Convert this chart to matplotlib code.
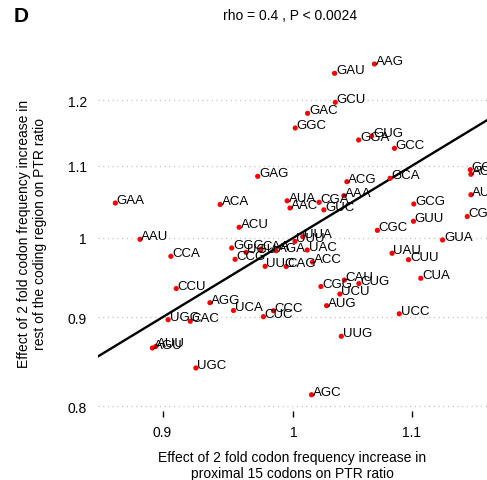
import numpy as np
import matplotlib
matplotlib.use('Agg')
import matplotlib.pyplot as plt
from matplotlib.ticker import FixedLocator, NullLocator, FixedFormatter

plt.rcParams['font.family'] = ['Liberation Sans', 'DejaVu Sans']

# codon effects (x: proximal 15 codons, y: rest of coding region)
codons = ['AAG', 'GAU', 'GCU', 'GAC', 'GGC', 'GGA', 'GUG', 'GCC', 'ACG', 'GCA',
          'GCU', 'ACC', 'AUC', 'CGU', 'GAG', 'GAA', 'ACA', 'AUA', 'AAC', 'ACU',
          'AAU', 'CCA', 'GGG', 'CCG', 'CCU', 'CGA', 'GUC', 'UGU', 'CAA', 'AGA',
          'UUC', 'CAG', 'UUU', 'UUA', 'UAC', 'ACC', 'AAA', 'GCG', 'GUU', 'CGC',
          'GUA', 'UAU', 'CUU', 'CUA', 'CGG', 'CAU', 'CUG', 'UCU', 'AUG', 'UCC',
          'UUG', 'AGC', 'AGG', 'UCA', 'CCC', 'CUC', 'UGG', 'CAC', 'AGU', 'AUU',
          'UGC']
x_proximal = [1.0673, 1.0336, 1.0342, 1.0114, 1.0014, 1.0538, 1.0649, 1.0846, 1.0439, 1.0808,
              1.1528, 1.1534, 1.1534, 1.1500, 0.9716, 0.8665, 0.9427, 0.9949, 0.9972, 0.9572,
              0.8839, 0.9061, 0.9515, 0.9541, 0.9100, 1.0208, 1.0247, 0.9626, 0.9743, 0.9861,
              0.9774, 0.9941, 1.0012, 1.0075, 1.0111, 1.0154, 1.0414, 1.1016, 1.1013, 1.0698,
              1.1274, 1.0825, 1.0969, 1.1078, 1.0223, 1.0418, 1.0540, 1.0380, 1.0270, 1.0888,
              1.0392, 1.0146, 0.9350, 0.9529, 0.9840, 0.9761, 0.9041, 0.9203, 0.8927, 0.8952,
              0.9245]
y_rest = [1.2587, 1.2433, 1.1964, 1.1791, 1.1564, 1.1382, 1.1442, 1.1257, 1.0770, 1.0819,
          1.0942, 1.0876, 1.0586, 1.0285, 1.0847, 1.0470, 1.0450, 1.0501, 1.0401, 1.0139,
          0.9979, 0.9757, 0.9865, 0.9718, 0.9349, 1.0480, 1.0376, 0.9808, 0.9851, 0.9829,
          0.9628, 0.9626, 0.9952, 1.0013, 0.9838, 0.9683, 1.0572, 1.0457, 1.0220, 1.0098,
          0.9970, 0.9796, 0.9713, 0.9477, 0.9374, 0.9455, 0.9410, 0.9281, 0.9139, 0.9041,
          0.8776, 0.8122, 0.9175, 0.9081, 0.9078, 0.9007, 0.8971, 0.8952, 0.8641, 0.8660,
          0.8415]

# fitted line in log-log space
fit_slope = 1.0
fit_intercept = 0.0

x_ticks = [0.9, 1.0, 1.1]
x_ticklabels = ['0.9', '1', '1.1']
y_ticks = [0.8, 0.9, 1.0, 1.1, 1.2]
y_ticklabels = ['0.8', '0.9', '1', '1.1', '1.2']

W, H = 487, 481
fig = plt.figure(figsize=(W / 100, H / 100), dpi=100)
ax = fig.add_axes([98 / W, (H - 412) / H, (487 - 98) / W, (412 - 55) / H])
ax.set_xscale('log')
ax.set_yscale('log')
ax.set_xlim(0.8545, 1.1684)
ax.set_ylim(0.7949, 1.2755)

# regression line
xl = np.array(ax.get_xlim())
yl = np.exp(fit_intercept + fit_slope * np.log(xl))
ax.plot(xl, yl, color='black', linewidth=1.7, zorder=3)

ax.scatter(x_proximal, y_rest, s=14, color='red', edgecolors='none', zorder=4)
for lab, xv, yv in zip(codons, x_proximal, y_rest):
    ax.annotate(lab, (xv, yv), xytext=(1, 0), textcoords='offset points',
                ha='left', va='baseline', fontsize=9.5, color='black',
                zorder=5, annotation_clip=False)

ax.xaxis.set_major_locator(FixedLocator(x_ticks))
ax.xaxis.set_major_formatter(FixedFormatter(x_ticklabels))
ax.xaxis.set_minor_locator(NullLocator())
ax.yaxis.set_major_locator(FixedLocator(y_ticks))
ax.yaxis.set_major_formatter(FixedFormatter(y_ticklabels))
ax.yaxis.set_minor_locator(NullLocator())

for s in ax.spines.values():
    s.set_visible(False)
ax.yaxis.grid(True, color='#c4c4c4', linestyle=(0, (0.8, 2.6)), linewidth=1.0)
ax.set_axisbelow(True)
ax.tick_params(axis='x', length=4, width=1, color='black', labelsize=10, pad=6)
ax.tick_params(axis='y', length=0, labelsize=10, pad=8)

ax.set_xlabel('Effect of 2 fold codon frequency increase in\nproximal 15 codons on PTR ratio',
              fontsize=10, labelpad=8)
ax.set_ylabel('Effect of 2 fold codon frequency increase in\nrest of the coding region on PTR ratio',
              fontsize=10, labelpad=15)

fig.text(290 / W, 1 - 16 / H, 'rho = 0.4 , P < 0.0024', ha='center', va='center', fontsize=10)
fig.text(14 / W, 1 - 16 / H, 'D', ha='left', va='center', fontsize=15, fontweight='bold')

fig.savefig('out.png', dpi=100)
